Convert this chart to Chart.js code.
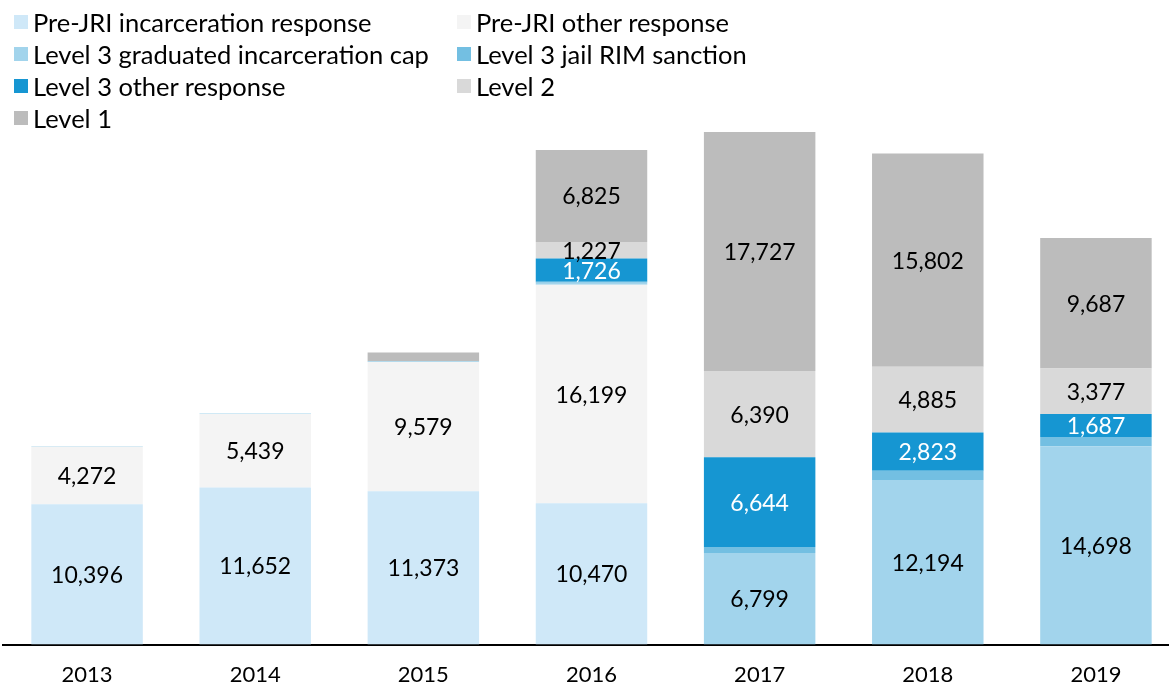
<!DOCTYPE html>
<html>
<head>
<meta charset="utf-8">
<script src="https://cdn.jsdelivr.net/npm/chart.js@4.4.1/dist/chart.umd.min.js"></script>
<style>
  html, body { margin: 0; padding: 0; background: #fff; overflow: hidden; }
  #wrap { position: absolute; left: 0; top: 0; width: 1180px; height: 705px; }
  #legend { position: absolute; left: 14px; top: 8px; width: 760px; font-family: Lato, sans-serif; font-size: 25.5px; color: #000; z-index: 2; }
  .item { position: absolute; display: flex; align-items: center; height: 28px; white-space: nowrap; }
  .box { width: 14px; height: 14px; margin-right: 5px; }
</style>
</head>
<body>
<div id="wrap">
  <div id="legend"></div>
  <canvas id="chart"></canvas>
</div>
<script>
// categories
const years = ['2013', '2014', '2015', '2016', '2017', '2018', '2019'];

// series values (small slivers estimated)
const preJriIncarceration = [10396, 11652, 11373, 10470, 0, 0, 0];
const preJriOther = [4272, 5439, 9579, 16199, 0, 0, 0];
const level3GradCap = [40, 40, 60, 160, 6799, 12194, 14698];
const level3JailRim = [0, 0, 0, 60, 440, 700, 700];
const level3Other = [0, 0, 0, 1726, 6644, 2823, 1687];
const level2 = [0, 0, 0, 1227, 6390, 4885, 3377];
const level1 = [0, 0, 640, 6825, 17727, 15802, 9687];

const seriesNames = [
  'Pre-JRI incarceration response',
  'Pre-JRI other response',
  'Level 3 graduated incarceration cap',
  'Level 3 jail RIM sanction',
  'Level 3 other response',
  'Level 2',
  'Level 1'
];
const seriesValues = [preJriIncarceration, preJriOther, level3GradCap, level3JailRim, level3Other, level2, level1];
const seriesColors = ['#cfe8f8', '#f4f4f4', '#a2d4ec', '#73bfe2', '#1696d2', '#d9d9d9', '#bcbcbc'];
const labelColors = ['#000', '#000', '#000', '#000', '#fff', '#000', '#000'];

// build html legend in two columns
const legend = document.getElementById('legend');
seriesNames.forEach((name, i) => {
  const div = document.createElement('div');
  div.className = 'item';
  div.style.left = (i % 2 === 0 ? 0 : 443) + 'px';
  div.style.top = (Math.floor(i / 2) * 32) + 'px';
  div.innerHTML = '<span class="box" style="background:' + seriesColors[i] + '"></span>' + name;
  legend.appendChild(div);
});

// value labels in the middle of each segment
const segmentLabels = {
  id: 'segmentLabels',
  afterDatasetsDraw(chart) {
    const ctx = chart.ctx;
    ctx.save();
    ctx.font = '23px Lato, sans-serif';
    ctx.textAlign = 'center';
    ctx.textBaseline = 'middle';
    chart.data.datasets.forEach((ds, di) => {
      const meta = chart.getDatasetMeta(di);
      meta.data.forEach((bar, i) => {
        const v = ds.data[i];
        if (v < 1000) return;
        ctx.fillStyle = labelColors[di];
        ctx.fillText(v.toLocaleString('en-US'), bar.x, (bar.y + bar.base) / 2 + 1);
      });
    });
    ctx.restore();
  }
};

new Chart(document.getElementById('chart'), {
  type: 'bar',
  data: {
    labels: years,
    datasets: seriesNames.map((name, i) => ({
      label: name,
      data: seriesValues[i],
      backgroundColor: seriesColors[i],
      borderWidth: 0,
      categoryPercentage: 1,
      barPercentage: 0.663
    }))
  },
  options: {
    responsive: true,
    maintainAspectRatio: false,
    animation: false,
    layout: { padding: { top: 105, left: 3, right: 0, bottom: 0 } },
    plugins: {
      legend: { display: false },
      tooltip: { enabled: false }
    },
    scales: {
      x: {
        stacked: true,
        grid: { display: false, drawTicks: false },
        border: { display: true, color: '#000', width: 2 },
        ticks: { color: '#000', padding: 17, font: { family: 'Lato', size: 22 } }
      },
      y: {
        stacked: true,
        display: false,
        min: 0,
        max: 40000
      }
    }
  },
  plugins: [segmentLabels]
});
</script>
</body>
</html>
